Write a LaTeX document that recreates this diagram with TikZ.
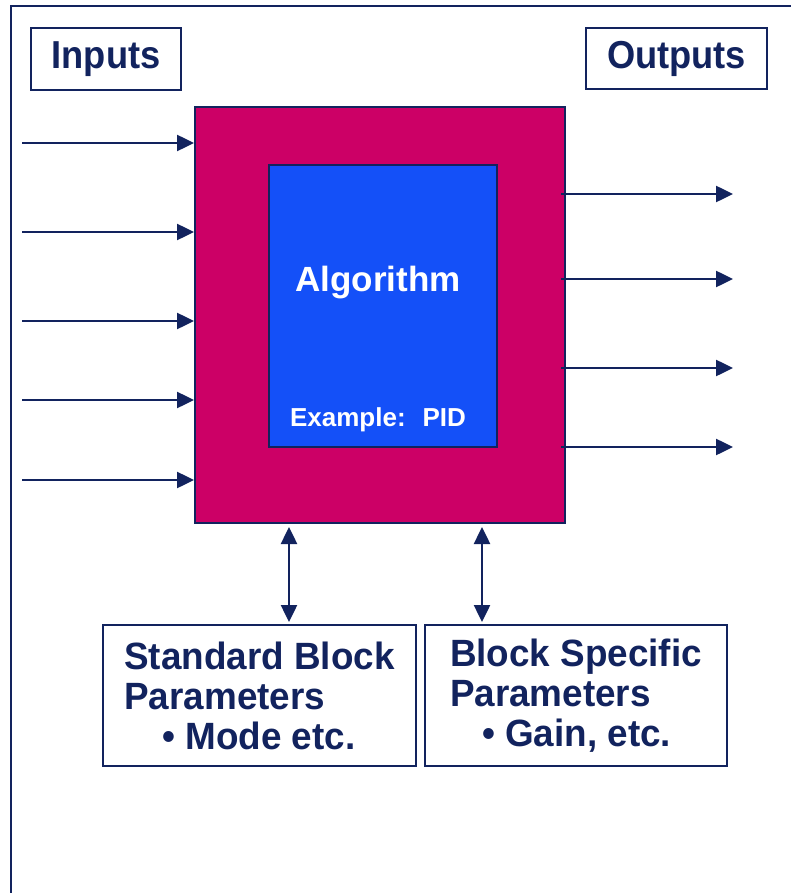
\documentclass[tikz,border=0pt]{standalone}
\usepackage{fontspec}
\setmainfont{Liberation Sans}
\newfontfamily\headfont[FakeStretch=0.93]{Liberation Sans}
\newfontfamily\parfont[FakeStretch=0.97]{Liberation Sans}
\usetikzlibrary{arrows.meta,positioning,calc}

\definecolor{navy}{RGB}{18,35,94}
\definecolor{blockred}{RGB}{204,0,102}
\definecolor{algoblue}{RGB}{20,80,248}

\tikzset{
	titlebox/.style={draw=navy, line width=2pt, text=navy, inner sep=0pt,
		font=\headfont\fontsize{39}{40}\selectfont\bfseries},
	parambox/.style={titlebox, align=left, minimum height=141pt,
		font=\parfont\fontsize{38}{40}\selectfont\bfseries},
	flow/.style={navy, line width=2.5pt, -{Triangle[length=17pt,width=16pt]}},
	dflow/.style={navy, line width=2.5pt, {Triangle[length=17pt,width=16pt]}-{Triangle[length=17pt,width=16pt]}}
}

\begin{document}
\begin{tikzpicture}[x=1pt,y=-1pt]
	\useasboundingbox (0,0) rectangle (791,893);
	\clip (0,0) rectangle (791,893);

	% frame
	\draw[navy, line width=2.5pt] (11,900) -- (11,6) -- (800,6);

	% titles
	\node[titlebox, minimum width=150pt, minimum height=62pt] (inputs) at (106,59) {Inputs};
	\node[titlebox, minimum width=181pt, minimum height=61pt] (outputs) at (676.5,58.5) {Outputs};

	% function block
	\node[draw=navy, line width=2pt, fill=blockred, minimum width=370pt, minimum height=416pt] (block) at (380,315) {};
	\node[draw=navy, line width=2pt, fill=algoblue, minimum width=228pt, minimum height=282pt] (algo) at (383,306) {};
	\node[text=white, font=\fontsize{35}{40}\selectfont\bfseries] (algoname) at (378,283) {Algorithm};
	\node[text=white, font=\fontsize{26}{30}\selectfont\bfseries] (example) at (378,420) {Example:~ PID};

	% inputs and outputs
	\foreach \y [count=\i] in {143,232,321,400,480} {
		\coordinate (in\i) at (22,\y);
		\draw[flow] (in\i) -- (in\i -| block.west);
	}
	\foreach \y [count=\i] in {194,279,368,447} {
		\coordinate (out\i) at (733,\y);
		\draw[flow] ($(out\i -| block.east)+(-5,0)$) -- (out\i);
	}

	% parameters
	\node[parambox, minimum width=313pt] (stdpar) at (259.5,695.5)
		{Standard Block\\Parameters\\\hspace*{38pt}• Mode etc.};
	\node[parambox, minimum width=302pt] (specpar) at (576,695.5)
		{Block Specific\\Parameters\\\hspace*{32pt}• Gain, etc.};

	\draw[dflow] ($(stdpar.north |- block.south)+(29.5,3)$) -- ($(stdpar.north)+(29.5,-2)$);
	\draw[dflow] ($(specpar.north |- block.south)+(-94,3)$) -- ($(specpar.north)+(-94,-2)$);

\end{tikzpicture}
\end{document}
